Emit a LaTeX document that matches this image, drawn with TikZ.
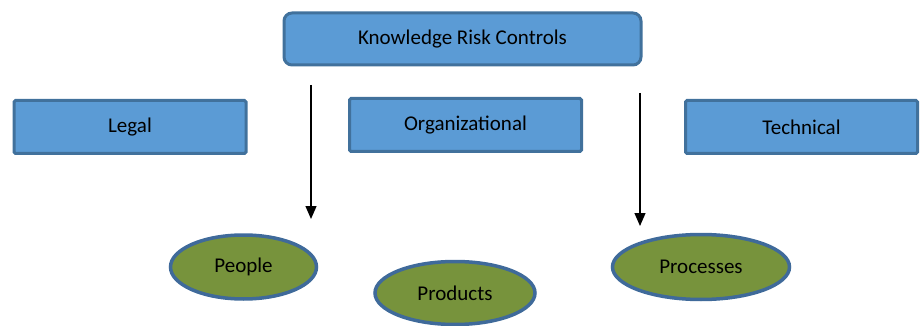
\documentclass[tikz,border=0pt]{standalone}
\usepackage{fontspec}
\setmainfont{Carlito}
\usetikzlibrary{arrows.meta,positioning,shapes.geometric}

\definecolor{boxblue}{HTML}{5B9BD5}
\definecolor{boxline}{HTML}{41719C}
\definecolor{ovalgreen}{HTML}{77933C}
\definecolor{ovalline}{HTML}{3F6A9A}

\tikzset{
  topbox/.style={draw=boxline,fill=boxblue,line width=3pt,rounded corners=8pt,
    minimum width=357pt,minimum height=52pt,font=\fontsize{21}{25}\selectfont},
  areabox/.style={draw=boxline,fill=boxblue,line width=3pt,rounded corners=1.5pt,
    minimum width=232pt,minimum height=53pt,font=\fontsize{21}{25}\selectfont},
  oval/.style={ellipse,draw=ovalline,fill=ovalgreen,line width=3.5pt,inner sep=0pt,
    font=\fontsize{21}{25}\selectfont},
  downarrow/.style={-{Triangle[length=13pt,width=11pt]},line width=1.3pt}
}

\begin{document}
\begin{tikzpicture}[x=1pt,y=-1pt,node distance=88pt,on grid]
  \useasboundingbox (0,0) rectangle (921,326);
  \node[topbox]  (krc)  at (462.5,39)               {Knowledge Risk Controls};
  \node[areabox] (legal) [below left=88pt and 332.5pt of krc]  {Legal};
  \node[areabox] (org)   [below right=86pt and 3pt of krc]     {Organizational};
  \node[areabox] (tech)  [below right=88pt and 339pt of krc]   {Technical};
  \node[oval,minimum width=146pt,minimum height=64pt] (people)
        [below right=140pt and 113.5pt of legal] {People};
  \node[oval,minimum width=160pt,minimum height=63pt] (products)
        [below left=168pt and 10.5pt of org]     {Products};
  \node[oval,minimum width=177pt,minimum height=65pt] (processes)
        [below left=140pt and 100.5pt of tech]   {Processes};
  % free ends of the two arrows
  \coordinate (a1) at (311,85);
  \coordinate (b1) at (311,219);
  \coordinate (a2) at (640,93);
  \coordinate (b2) at (640,226);
  \draw[downarrow] (a1) -- (b1);
  \draw[downarrow] (a2) -- (b2);
\end{tikzpicture}
\end{document}
